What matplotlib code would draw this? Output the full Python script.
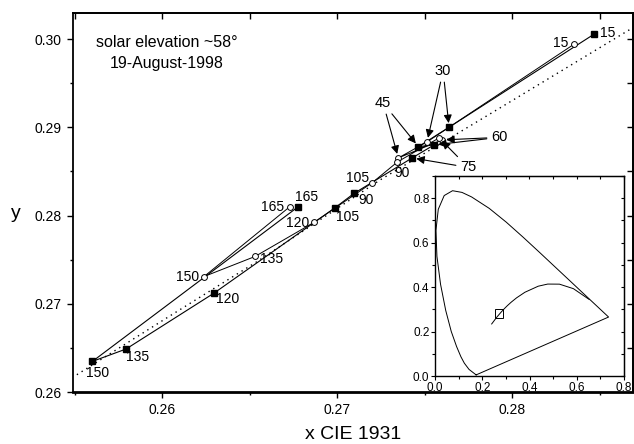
import matplotlib
matplotlib.use("Agg")
import matplotlib.pyplot as plt
from matplotlib.patches import Rectangle
from matplotlib.ticker import MultipleLocator, FormatStrFormatter

plt.rcParams['font.family'] = ['Liberation Sans', 'DejaVu Sans']

# scattering angles (deg) labelling each measured point
angles = [15, 30, 45, 60, 75, 90, 105, 120, 135, 150, 165]

# series 1 (filled squares): chromaticity x, y
sq_x = [0.28470, 0.27640, 0.27465, 0.27554, 0.27429, 0.27099, 0.26990, 0.26297, 0.25794, 0.25602, 0.26779]
sq_y = [0.30058, 0.29001, 0.28781, 0.28801, 0.28653, 0.28254, 0.28091, 0.27121, 0.26487, 0.26347, 0.28102]

# series 2 (open circles): chromaticity x, y
ci_x = [0.28356, 0.27514, 0.27350, 0.27600, 0.27583, 0.27345, 0.27202, 0.26870, 0.26531, 0.26240, 0.26731]
ci_y = [0.29945, 0.28835, 0.28653, 0.28857, 0.28880, 0.28608, 0.28374, 0.27925, 0.27536, 0.27309, 0.28102]

# reference locus (dotted)
loc_x = [0.25513, 0.26046, 0.26541, 0.27246, 0.27931, 0.28684]
loc_y = [0.26196, 0.26864, 0.27476, 0.28404, 0.29220, 0.30122]

# CIE 1931 spectral locus
spec_x = [0.1741, 0.1440, 0.1241, 0.1096, 0.0913, 0.0687, 0.0454, 0.0235, 0.0082, 0.0039,
          0.0139, 0.0389, 0.0743, 0.1142, 0.1547, 0.2296, 0.3016, 0.3731, 0.4441, 0.5125,
          0.5752, 0.6270, 0.6915, 0.7190, 0.7347]
spec_y = [0.0050, 0.0297, 0.0578, 0.0868, 0.1327, 0.2007, 0.2950, 0.4127, 0.5384, 0.6548,
          0.7502, 0.8120, 0.8338, 0.8262, 0.8059, 0.7543, 0.6923, 0.6245, 0.5547, 0.4866,
          0.4242, 0.3725, 0.3083, 0.2809, 0.2653]

# Planckian locus
pl_x = [0.6528, 0.5857, 0.5267, 0.4770, 0.4369, 0.3805, 0.3451, 0.3221, 0.3064, 0.2952, 0.2807, 0.2637, 0.2565, 0.2399]
pl_y = [0.3444, 0.3931, 0.4133, 0.4137, 0.4041, 0.3768, 0.3516, 0.3318, 0.3166, 0.3048, 0.2884, 0.2674, 0.2577, 0.2342]

# labels placed beside single points: index -> (dx, dy) in pixels
sq_label_off = {0: (13, 1), 5: (12, -7), 6: (12, -9), 7: (14, -6), 8: (12, -8), 9: (5, -12), 10: (8, 10)}
ci_label_off = {0: (-14, 1), 5: (5, -11), 6: (-15, 5), 7: (-17, -1), 8: (17, -3), 9: (-17, 0), 10: (-17, 0)}

# labels with arrows: text, text centre, index of the pointed-at angle in both series
arrow_labels = [
    ("30", (0.27606, 0.29639), 1),
    ("45", (0.27263, 0.29276), 2),
    ("60", (0.27926, 0.28886), 3),
    ("75", (0.27749, 0.28546), 4),
]

fig = plt.figure(figsize=(6.34, 4.44), dpi=100)
ax = fig.add_axes([73 / 634, 1 - 392 / 444, 560 / 634, 379 / 444])
ax.set_xlim(0.25491, 0.28691)
ax.set_ylim(0.26, 0.30296)

ax.plot(loc_x, loc_y, color='k', lw=1.0, ls=(0, (1, 3)), zorder=1)
ax.plot(sq_x, sq_y, color='k', lw=0.8, zorder=2)
ax.plot(ci_x, ci_y, color='k', lw=0.7, zorder=2)
ax.plot(sq_x, sq_y, ls='none', marker='s', ms=4, color='k', zorder=4)
ax.plot(ci_x, ci_y, ls='none', marker='o', ms=4.2, mfc='white', mec='k', mew=0.7, zorder=4)

for i, (dx, dy) in sq_label_off.items():
    ax.annotate(str(angles[i]), (sq_x[i], sq_y[i]), xytext=(dx, dy), textcoords='offset pixels',
                ha='center', va='center', fontsize=10)
for i, (dx, dy) in ci_label_off.items():
    ax.annotate(str(angles[i]), (ci_x[i], ci_y[i]), xytext=(dx, dy), textcoords='offset pixels',
                ha='center', va='center', fontsize=10)

aprops = dict(arrowstyle='-|>', color='k', lw=0.8, mutation_scale=12, shrinkA=1, shrinkB=3)
for text, pos, i in arrow_labels:
    ax.annotate(text, xy=(ci_x[i], ci_y[i]), xytext=pos, ha='center', va='center',
                fontsize=10.5, arrowprops=aprops, zorder=5)
    ax.annotate(text, xy=(sq_x[i], sq_y[i]), xytext=pos, ha='center', va='center',
                fontsize=10.5, color='none', arrowprops=aprops, zorder=5)

ax.text(0.168, 0.923, "solar elevation ~58\u00b0", transform=ax.transAxes, ha='center', va='center', fontsize=11.5)
ax.text(0.168, 0.866, "19-August-1998", transform=ax.transAxes, ha='center', va='center', fontsize=11.5)

ax.xaxis.set_major_locator(MultipleLocator(0.01))
ax.xaxis.set_minor_locator(MultipleLocator(0.005))
ax.yaxis.set_major_locator(MultipleLocator(0.01))
ax.yaxis.set_minor_locator(MultipleLocator(0.005))
ax.xaxis.set_major_formatter(FormatStrFormatter('%.2f'))
ax.yaxis.set_major_formatter(FormatStrFormatter('%.2f'))
ax.tick_params(which='major', direction='out', length=4.5, width=1.0, labelsize=10)
ax.tick_params(which='minor', direction='out', length=2.5, width=1.0)
for s in ax.spines.values():
    s.set_linewidth(1.3)
ax.spines['bottom'].set_linewidth(2.0)

top = ax.secondary_xaxis('top')
top.xaxis.set_major_locator(MultipleLocator(0.005))
top.tick_params(direction='in', length=4.5, width=1.0, labeltop=False)
right = ax.secondary_yaxis('right')
right.yaxis.set_major_locator(MultipleLocator(0.005))
right.tick_params(direction='in', length=4.5, width=1.0, labelright=False)
for sec in (top, right):
    for s in sec.spines.values():
        s.set_linewidth(1.3)

ax.set_xlabel("x CIE 1931", fontsize=14, va='center')
ax.xaxis.set_label_coords(0.5, -0.113)
ax.set_ylabel("y", fontsize=14, rotation=0, ha='center', va='center')
ax.yaxis.set_label_coords(-0.102, 0.472)

# chromaticity diagram inset
ins = fig.add_axes([435 / 634, 1 - 376 / 444, 189 / 634, 200 / 444])
ins.set_facecolor('white')
ins.plot(spec_x + [spec_x[0]], spec_y + [spec_y[0]], color='k', lw=0.7)
ins.plot(pl_x, pl_y, color='k', lw=0.7)
xl, yl = ax.get_xlim(), ax.get_ylim()
ins.add_patch(Rectangle((xl[0], yl[0]), xl[1] - xl[0], yl[1] - yl[0], fill=False, ec='k', lw=0.7))
ins.set_xlim(0, 0.8)
ins.set_ylim(0, 0.9)
ins.xaxis.set_major_locator(MultipleLocator(0.2))
ins.xaxis.set_minor_locator(MultipleLocator(0.1))
ins.yaxis.set_major_locator(MultipleLocator(0.2))
ins.yaxis.set_minor_locator(MultipleLocator(0.1))
ins.xaxis.set_major_formatter(FormatStrFormatter('%.1f'))
ins.yaxis.set_major_formatter(FormatStrFormatter('%.1f'))
ins.tick_params(which='major', direction='out', length=3, width=0.8, labelsize=8.5, pad=1)
ins.tick_params(which='minor', direction='out', length=2, width=0.8)
for s in ins.spines.values():
    s.set_linewidth(1.0)
itop = ins.secondary_xaxis('top')
itop.xaxis.set_major_locator(MultipleLocator(0.1))
itop.tick_params(direction='in', length=2.5, width=0.8, labeltop=False)
iright = ins.secondary_yaxis('right')
iright.yaxis.set_major_locator(MultipleLocator(0.1))
iright.tick_params(direction='in', length=2.5, width=0.8, labelright=False)

fig.savefig("out.png", dpi=100)
